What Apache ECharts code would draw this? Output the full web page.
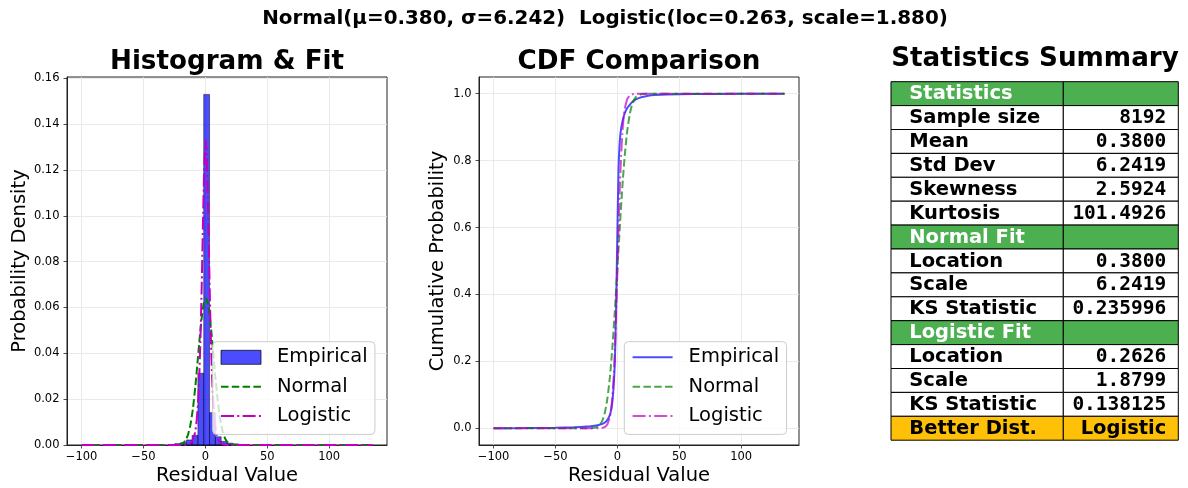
<!DOCTYPE html>
<html><head><meta charset="utf-8">
<script src="https://cdn.jsdelivr.net/npm/echarts@6/dist/echarts.min.js"></script>
<style>html,body{margin:0;padding:0;background:#fff}#c{width:1188px;height:488px}</style>
</head><body><div id="c"></div>
<script>
const FONT = 'DejaVu Sans';
const MONO = 'DejaVu Sans Mono';

// ---- data ----
const suptitle = 'Normal(μ=0.380, σ=6.242)  Logistic(loc=0.263, scale=1.880)';
const xTicks = [-100, -50, 0, 50, 100];
const histYTicks = [0, 0.02, 0.04, 0.06, 0.08, 0.10, 0.12, 0.14, 0.16];
const cdfYTicks = [0, 0.2, 0.4, 0.6, 0.8, 1.0];

// histogram bins (left edge, right edge, density)
const binLeft    = [-24.8, -20.1, -15.4, -10.7, -6.0, -1.3, 3.4, 8.1, 12.8, 17.5, 22.2];
const binRight   = [-20.1, -15.4, -10.7, -6.0, -1.3, 3.4, 8.1, 12.8, 17.5, 22.2, 26.9];
const binDensity = [0.0006, 0.0010, 0.0022, 0.0042, 0.0313, 0.1530, 0.0141, 0.0036, 0.0016, 0.0008, 0.0005];

// fitted pdf curves
const normPdfX = [-100, -30, -25, -20, -18, -16, -14, -12, -10, -8, -6, -5, -4, -3, -2, -1, 0, 1, 2, 3, 4, 5, 6, 8, 10, 12, 14, 16, 18, 20, 25, 30, 135];
const normPdfY = [0, 0.000001, 0.000016, 0.00031, 0.00084, 0.00204, 0.00449, 0.00894, 0.01603, 0.02595, 0.0379, 0.0441, 0.04997, 0.0552, 0.05943, 0.06237, 0.0638, 0.0636, 0.0618, 0.0585, 0.0540, 0.0486, 0.0426, 0.0303, 0.0195, 0.0113, 0.00591, 0.00279, 0.00119, 0.000457, 0.000027, 0.000001, 0];
const logPdfX = [-100, -30, -20, -15, -12, -10, -9, -8, -7, -6, -5, -4, -3, -2, -1, 0, 0.3, 1, 2, 3, 4, 5, 6, 7, 8, 9, 10, 12, 15, 20, 30, 135];
const logPdfY = [0, 0, 0.00001, 0.000158, 0.00078, 0.00224, 0.0038, 0.0064, 0.01072, 0.0177, 0.0287, 0.0452, 0.0678, 0.0944, 0.1190, 0.1323, 0.1330, 0.1280, 0.1082, 0.0816, 0.0564, 0.0367, 0.0229, 0.01398, 0.0084, 0.0050, 0.00296, 0.00103, 0.00021, 0.0000146, 0, 0];

// CDF curves
const ecdfX = [-100, -75, -50, -35, -25, -20, -15, -12, -10, -8, -6, -5, -4, -3, -2, -1, 0, 1, 2, 3, 4, 5, 6, 8, 10, 12, 15, 20, 25, 30, 40, 60, 100, 135];
const ecdfY = [0, 0.0005, 0.0015, 0.003, 0.005, 0.007, 0.010, 0.013, 0.017, 0.025, 0.040, 0.055, 0.080, 0.125, 0.20, 0.36, 0.58, 0.78, 0.86, 0.895, 0.915, 0.93, 0.942, 0.957, 0.967, 0.975, 0.983, 0.990, 0.994, 0.996, 0.998, 0.999, 0.9997, 1.0];
const normCdfX = [-100, -30, -25, -20, -15, -12, -10, -8, -6, -4, -2, 0, 2, 4, 6, 8, 10, 12, 15, 20, 25, 135];
const normCdfY = [0, 0, 0.00002, 0.00055, 0.0069, 0.0237, 0.0482, 0.0897, 0.1534, 0.2414, 0.3515, 0.4757, 0.6024, 0.719, 0.816, 0.8889, 0.9383, 0.9687, 0.9904, 0.99916, 0.99998, 1];
const logCdfX = [-100, -30, -20, -15, -12, -10, -8, -6, -5, -4, -3, -2, -1, 0, 1, 2, 3, 4, 5, 6, 8, 10, 12, 15, 20, 30, 135];
const logCdfY = [0, 0, 0.00002, 0.0003, 0.00147, 0.00424, 0.0122, 0.0345, 0.0573, 0.0938, 0.1499, 0.2309, 0.3381, 0.4651, 0.5968, 0.7158, 0.8109, 0.8795, 0.9255, 0.9548, 0.9839, 0.9944, 0.9981, 0.9996, 1, 1, 1];

// statistics table
const tableLabels = ['Statistics', 'Sample size', 'Mean', 'Std Dev', 'Skewness', 'Kurtosis', 'Normal Fit', 'Location', 'Scale', 'KS Statistic', 'Logistic Fit', 'Location', 'Scale', 'KS Statistic', 'Better Dist.'];
const tableValues = ['', '8192', '0.3800', '6.2419', '2.5924', '101.4926', '', '0.3800', '6.2419', '0.235996', '', '0.2626', '1.8799', '0.138125', 'Logistic'];
const tableKinds  = ['head', 'body', 'body', 'body', 'body', 'body', 'head', 'body', 'body', 'body', 'head', 'body', 'body', 'body', 'best'];

// ---- build ----
const zip = (xs, ys) => xs.map((x, i) => [x, ys[i]]);
const fmtMinus = s => String(s).replace('-', '\u2212');

const BLUE_FILL = 'rgba(0,0,255,0.7)';
const GREEN = '#008000', MAG = '#bf00bf';
const GREEN_A = 'rgba(0,128,0,0.7)', MAG_A = 'rgba(191,0,191,0.7)', BLUE_A = 'rgba(0,0,255,0.7)';
const DASH = [7.5, 3.3];
const DASHDOT = [13, 3.3, 2, 3.3];
const NOSYM = { opacity: 0, color: 'rgba(0,0,0,0)', borderWidth: 0 };

function xAxisCfg(gi) {
  return {
    type: 'value', gridIndex: gi, min: -111.75, max: 146.75,
    axisLine: { show: true, onZero: false, lineStyle: { color: '#222', width: 1 } },
    axisTick: { show: true, length: 3.5, customValues: xTicks, lineStyle: { color: '#222', width: 0.8 } },
    axisLabel: { customValues: xTicks, formatter: v => fmtMinus(v), fontFamily: FONT, fontSize: 11.5, color: '#000', margin: 6 },
    splitLine: { show: true, lineStyle: { color: '#e4e4e4', width: 0.8 } }
  };
}
function yAxisCfg(gi, min, max, ticks, dec) {
  return {
    type: 'value', gridIndex: gi, min, max,
    axisLine: { show: true, onZero: false, lineStyle: { color: '#222', width: 1 } },
    axisTick: { show: true, length: 3.5, customValues: ticks, lineStyle: { color: '#222', width: 0.8 } },
    axisLabel: { customValues: ticks, formatter: v => v.toFixed(dec), fontFamily: FONT, fontSize: 11.5, color: '#000', margin: 7.5 },
    splitLine: { show: true, lineStyle: { color: '#e4e4e4', width: 0.8 } }
  };
}

const legendCommon = {
  orient: 'vertical', itemWidth: 40, itemHeight: 14, itemGap: 9.4,
  padding: [5.6, 7.3, 8.3, 7.3],
  backgroundColor: 'rgba(255,255,255,0.8)', borderColor: '#cccccc', borderWidth: 1, borderRadius: 4,
  textStyle: { fontFamily: FONT, fontSize: 19.5, lineHeight: 20, color: '#000', padding: [0, 0, 0, 11] },
  formatter: n => n.trim(),
  selectedMode: false
};

const histData = binLeft.map((l, i) => [l, binRight[i], binDensity[i]]);

const graphic = [];
function txt(x, y, text, size, weight, opts) {
  graphic.push(Object.assign({
    type: 'text', x, y, z: 100,
    style: { text, fontFamily: FONT, fontSize: size, fontWeight: weight, fill: '#000', align: 'center', verticalAlign: 'middle' }
  }, opts || {}));
}
txt(605, 18.5, suptitle, 19.9, 'bold');
txt(227, 62, 'Histogram & Fit', 26.2, 'bold');
txt(639, 62, 'CDF Comparison', 26.2, 'bold');
txt(1035, 59, 'Statistics Summary', 26.2, 'bold');
txt(227, 476, 'Residual Value', 19.5, 'normal');
txt(639, 476, 'Residual Value', 19.5, 'normal');
txt(20, 261, 'Probability Density', 19.5, 'normal', { rotation: Math.PI / 2 });
txt(438, 261, 'Cumulative Probability', 19.5, 'normal', { rotation: Math.PI / 2 });

// table
const T = { left: 891, mid: 1063.3, right: 1178.3, top: 81.7, rowH: 23.9 };
tableLabels.forEach((lab, i) => {
  const y = T.top + i * T.rowH;
  const kind = tableKinds[i];
  const fill = kind === 'head' ? '#4caf50' : kind === 'best' ? '#ffc107' : '#ffffff';
  const tcol = kind === 'head' ? '#ffffff' : '#000000';
  graphic.push({ type: 'rect', z: 50, shape: { x: T.left, y, width: T.mid - T.left, height: T.rowH }, style: { fill, stroke: '#000', lineWidth: 1 } });
  graphic.push({ type: 'rect', z: 50, shape: { x: T.mid, y, width: T.right - T.mid, height: T.rowH }, style: { fill, stroke: '#000', lineWidth: 1 } });
  graphic.push({ type: 'text', z: 60, x: 909.3, y: y + T.rowH / 2 + 0.5, style: { text: lab, fontFamily: FONT, fontSize: 19.5, fontWeight: 'bold', fill: tcol, align: 'left', verticalAlign: 'middle' } });
  if (tableValues[i]) {
    graphic.push({ type: 'text', z: 60, x: 1166.3, y: y + T.rowH / 2 + 0.5, style: { text: tableValues[i], fontFamily: kind === 'best' ? FONT : MONO, fontSize: 19.5, fontWeight: 'bold', fill: tcol, align: 'right', verticalAlign: 'middle' } });
  }
});

const option = {
  animation: false,
  backgroundColor: '#ffffff',
  textStyle: { fontFamily: FONT },
  grid: [
    { left: 67, right: 801, top: 77, bottom: 43, show: true, borderColor: '#222', borderWidth: 1, backgroundColor: 'transparent' },
    { left: 479, right: 389, top: 77, bottom: 43, show: true, borderColor: '#222', borderWidth: 1, backgroundColor: 'transparent' }
  ],
  xAxis: [xAxisCfg(0), xAxisCfg(1)],
  yAxis: [
    yAxisCfg(0, 0, 0.1606, histYTicks, 2),
    yAxisCfg(1, -0.05, 1.05, cdfYTicks, 1)
  ],
  legend: [
    Object.assign({}, legendCommon, {
      left: 212.7, top: 341.7,
      data: [
        { name: 'Empirical', icon: 'rect', itemStyle: { color: BLUE_FILL, borderColor: 'rgba(0,0,0,0.7)', borderWidth: 1 } },
        { name: 'Normal', itemStyle: NOSYM, lineStyle: { color: GREEN, width: 2, type: DASH } },
        { name: 'Logistic', itemStyle: NOSYM, lineStyle: { color: MAG, width: 2, type: DASHDOT } }
      ]
    }),
    Object.assign({}, legendCommon, {
      left: 624.3, top: 341.7,
      data: [
        { name: 'Empirical ', itemStyle: NOSYM, lineStyle: { color: BLUE_A, width: 2, type: 'solid' } },
        { name: 'Normal ', itemStyle: NOSYM, lineStyle: { color: GREEN_A, width: 2, type: DASH } },
        { name: 'Logistic ', itemStyle: NOSYM, lineStyle: { color: MAG_A, width: 2, type: DASHDOT } }
      ]
    })
  ],
  series: [
    {
      name: 'Empirical', type: 'custom', xAxisIndex: 0, yAxisIndex: 0,
      itemStyle: { color: BLUE_FILL },
      encode: { x: [0, 1], y: 2 },
      data: histData,
      renderItem: (params, api) => {
        const p0 = api.coord([api.value(0), api.value(2)]);
        const p1 = api.coord([api.value(1), 0]);
        return { type: 'rect', shape: { x: p0[0], y: p0[1], width: p1[0] - p0[0], height: p1[1] - p0[1] },
          style: { fill: BLUE_FILL, stroke: 'rgba(0,0,0,0.6)', lineWidth: 0.8 } };
      }
    },
    { name: 'Normal', type: 'line', xAxisIndex: 0, yAxisIndex: 0, symbol: 'none', smooth: 0.2, data: zip(normPdfX, normPdfY),
      lineStyle: { color: GREEN, width: 2, type: DASH }, itemStyle: { color: GREEN } },
    { name: 'Logistic', type: 'line', xAxisIndex: 0, yAxisIndex: 0, symbol: 'none', smooth: 0.2, data: zip(logPdfX, logPdfY),
      lineStyle: { color: MAG, width: 2, type: DASHDOT }, itemStyle: { color: MAG } },
    { name: 'Empirical ', type: 'line', xAxisIndex: 1, yAxisIndex: 1, symbol: 'none', smooth: 0.2, data: zip(ecdfX, ecdfY),
      lineStyle: { color: BLUE_A, width: 2 }, itemStyle: { color: BLUE_A } },
    { name: 'Normal ', type: 'line', xAxisIndex: 1, yAxisIndex: 1, symbol: 'none', smooth: 0.2, data: zip(normCdfX, normCdfY),
      lineStyle: { color: GREEN_A, width: 2, type: DASH }, itemStyle: { color: GREEN_A } },
    { name: 'Logistic ', type: 'line', xAxisIndex: 1, yAxisIndex: 1, symbol: 'none', smooth: 0.2, data: zip(logCdfX, logCdfY),
      lineStyle: { color: MAG_A, width: 2, type: DASHDOT }, itemStyle: { color: MAG_A } }
  ],
  graphic
};

const chart = echarts.init(document.getElementById('c'), null, { renderer: 'canvas' });
chart.setOption(option);
</script>
</body></html>
